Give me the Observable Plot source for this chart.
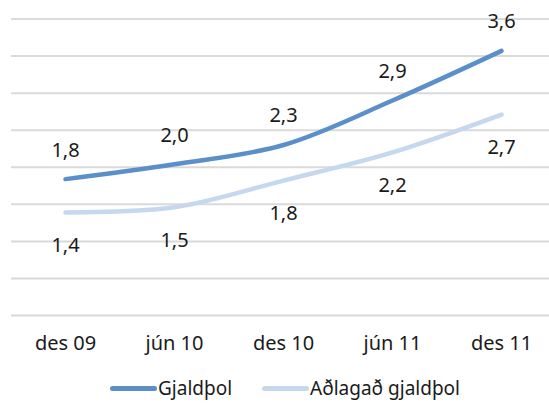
<!DOCTYPE html>
<html><head><meta charset="utf-8">
<script src="https://cdn.jsdelivr.net/npm/d3@7"></script>
<script src="https://cdn.jsdelivr.net/npm/@observablehq/plot@0.6"></script>
<style>
body{margin:0;background:#fff;font-family:"Noto Sans",sans-serif;}
#chart svg{display:block;}
#legend{display:flex;justify-content:center;align-items:center;height:30px;font-size:19px;color:#1a1a1a;padding-left:21px;}
.sw{display:inline-block;width:47px;height:5px;border-radius:3px;margin-right:1px;}
.item{display:flex;align-items:center;margin:0 15px;}
</style></head><body>
<div id="chart"></div>
<div id="legend"></div>
<script>
const categories = ["des 09","jún 10","des 10","jún 11","des 11"];
const seriesNames = ["Gjaldþol","Aðlagað gjaldþol"];
const gjaldthol = [1.84,2.04,2.3,2.9,3.57];
const adlagad = [1.39,1.46,1.82,2.2,2.71];
const gridTicks = [0,0.5,1,1.5,2,2.5,3,3.5,4];
const colors = ["#5b8fc9","#c5d8ed"];

const fmt = v => d3.format(".1f")(v).replace(".", ",");
const rows1 = categories.map((c,i)=>({cat:c, v:gjaldthol[i]}));
const rows2 = categories.map((c,i)=>({cat:c, v:adlagad[i]}));
const font = '"Noto Sans", sans-serif';

const chart = Plot.plot({
  width:549, height:373,
  marginTop:18.5, marginBottom:58, marginLeft:11, marginRight:0,
  x:{type:"point", domain:categories, range:[65,501], padding:0},
  y:{domain:[0,4], range:[315,18.5], axis:null},
  style:{fontFamily:font, fontSize:"20px", color:"#1a1a1a", background:"#fff"},
  marks:[
    Plot.ruleY(gridTicks,{stroke:"#dadada", strokeWidth:2}),
    Plot.axisX({tickSize:0, tickPadding:20, label:null, fontSize:20}),
    Plot.line(rows2,{x:"cat", y:"v", stroke:colors[1], strokeWidth:4.5, curve:"catmull-rom", strokeLinecap:"round"}),
    Plot.line(rows1,{x:"cat", y:"v", stroke:colors[0], strokeWidth:4.5, curve:"catmull-rom", strokeLinecap:"round"}),
    Plot.text(rows1,{x:"cat", y:"v", text:d=>fmt(d.v), dy:-29, fontSize:20, fill:"#1a1a1a"}),
    Plot.text(rows2,{x:"cat", y:"v", text:d=>fmt(d.v), dy:33, fontSize:20, fill:"#1a1a1a"})
  ]
});
document.getElementById("chart").appendChild(chart);

const legend = document.getElementById("legend");
seriesNames.forEach((n,i)=>{
  const it = document.createElement("div"); it.className="item";
  const sw = document.createElement("span"); sw.className="sw"; sw.style.background=colors[i];
  const t = document.createElement("span"); t.textContent=n;
  it.appendChild(sw); it.appendChild(t); legend.appendChild(it);
});
</script>
</body></html>
